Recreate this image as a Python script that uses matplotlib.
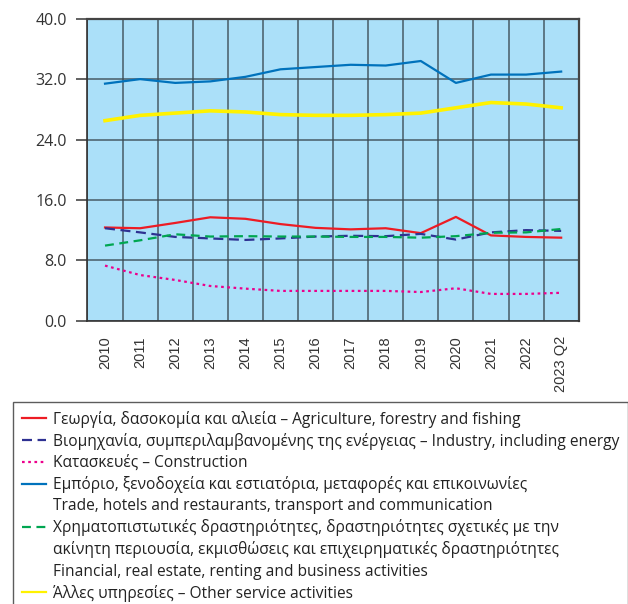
import numpy as np
import matplotlib
matplotlib.use("Agg")
import matplotlib.pyplot as plt
from matplotlib.lines import Line2D

years = ["2010", "2011", "2012", "2013", "2014", "2015", "2016",
         "2017", "2018", "2019", "2020", "2021", "2022", "2023 Q2"]

agriculture = [12.35, 12.25, 12.95, 13.7, 13.5, 12.8, 12.3,
               12.1, 12.25, 11.6, 13.75, 11.3, 11.1, 11.0]
industry = [12.25, 11.7, 11.1, 10.9, 10.7, 10.9, 11.15,
            11.25, 11.2, 11.5, 10.75, 11.7, 12.0, 11.9]
construction = [7.3, 6.05, 5.4, 4.6, 4.25, 3.95, 3.95,
                3.95, 3.95, 3.8, 4.3, 3.55, 3.55, 3.7]
trade = [31.4, 32.0, 31.5, 31.7, 32.3, 33.3, 33.6,
         33.9, 33.8, 34.4, 31.5, 32.6, 32.6, 33.0]
financial = [9.95, 10.65, 11.45, 11.15, 11.2, 11.15, 11.15,
             11.1, 11.1, 11.0, 11.2, 11.65, 11.7, 12.15]
other = [26.5, 27.2, 27.5, 27.8, 27.65, 27.3, 27.2,
         27.2, 27.3, 27.5, 28.2, 28.9, 28.7, 28.2]

yticks = [0, 8, 16, 24, 32, 40]

legend_rows = [
    ("Γεωργία, δασοκομία και αλιεία – Agriculture, forestry and fishing", "agr"),
    ("Βιομηχανία, συμπεριλαμβανομένης της ενέργειας – Industry, including energy", "ind"),
    ("Κατασκευές – Construction", "con"),
    ("Εμπόριο, ξενοδοχεία και εστιατόρια, μεταφορές και επικοινωνίες", "tra"),
    ("Trade, hotels and restaurants, transport and communication", None),
    ("Χρηματοπιστωτικές δραστηριότητες, δραστηριότητες σχετικές με την", "fin"),
    ("ακίνητη περιουσία, εκμισθώσεις και επιχειρηματικές δραστηριότητες", None),
    ("Financial, real estate, renting and business activities", None),
    ("Άλλες υπηρεσίες – Other service activities", "oth"),
]

styles = {
    "agr": dict(color="#ED1C24", lw=1.6, ls="-"),
    "ind": dict(color="#2E3192", lw=1.6, ls=(0, (4.5, 2.5))),
    "con": dict(color="#EC008C", lw=1.6, ls=(0, (1.2, 1.6))),
    "tra": dict(color="#0072BC", lw=1.6, ls="-"),
    "fin": dict(color="#00A651", lw=1.6, ls=(0, (4, 2.5))),
    "oth": dict(color="#FFF200", lw=2.6, ls="-"),
}
series = {"agr": agriculture, "ind": industry, "con": construction,
          "tra": trade, "fin": financial, "oth": other}

fig = plt.figure(figsize=(6.28, 6.04), dpi=100)
ax = fig.add_axes([0.1393, 0.469, 0.7822, 0.500])
ax.set_facecolor("#ABE0F9")

x = np.arange(len(years))
for key in ["agr", "ind", "con", "tra", "fin", "oth"]:
    ax.plot(x, series[key], **styles[key], zorder=3)

ax.set_xlim(-0.5, len(years) - 0.5)
ax.set_ylim(0, 40)
ax.set_yticks(yticks)
ax.set_yticklabels([f"{v:.1f}" for v in yticks], fontsize=11.5,
                   color="#333333", family="Open Sans")
ax.set_xticks(x)
ax.set_xticklabels(years, rotation=90, fontsize=10.5, family="Liberation Sans",
                   color="#333333")
ax.tick_params(axis="x", length=0, pad=11)
ax.tick_params(axis="y", length=8, width=1.3, color="#555555", pad=7)

ax.set_xticks(np.arange(len(years) + 1) - 0.5, minor=True)
ax.tick_params(axis="x", which="minor", length=0)
ax.grid(True, which="minor", axis="x", color="#3a4a52", lw=1.3, alpha=0.75)
ax.grid(True, which="major", axis="y", color="#3a4a52", lw=1.3, alpha=0.75)
ax.set_axisbelow(True)
for side in ["top", "right"]:
    ax.spines[side].set_color("#444444")
    ax.spines[side].set_linewidth(1.6)
for side in ["left", "bottom"]:
    ax.spines[side].set_color("#333333")
    ax.spines[side].set_linewidth(1.2)

handles = []
labels = []
for text, key in legend_rows:
    if key is None:
        handles.append(Line2D([], [], color="none"))
    else:
        st = styles[key]
        handles.append(Line2D([], [], color=st["color"], lw=1.6, ls=st["ls"]))
    labels.append(text)

leg = fig.legend(handles, labels, loc="upper left",
                 bbox_to_anchor=(13 / 628, 1 - 402 / 604),
                 bbox_transform=fig.transFigure,
                 prop={"family": "Open Sans", "size": 11.2},
                 handlelength=1.55, handletextpad=0.45, labelspacing=0.33,
                 borderaxespad=0, borderpad=0.55, fancybox=False,
                 frameon=True, edgecolor="#333333", labelcolor="#222222")
leg.get_frame().set_linewidth(1.0)

fig.savefig("out.png", dpi=100)
